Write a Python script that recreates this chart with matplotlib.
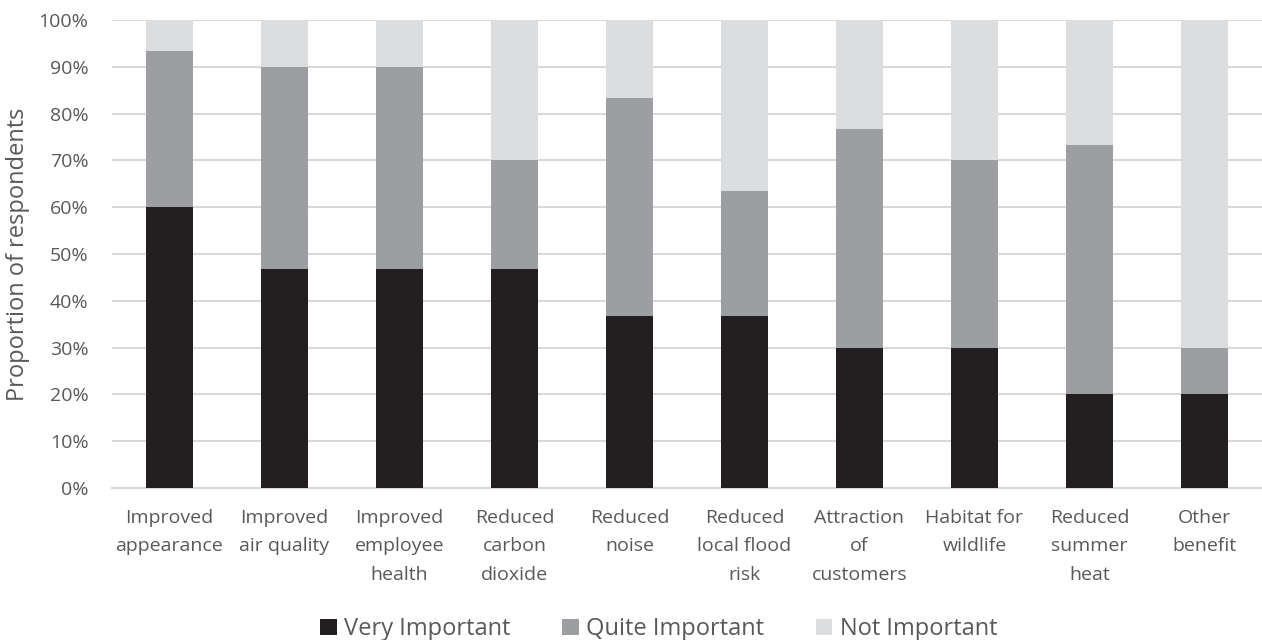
import matplotlib
matplotlib.use('Agg')
from matplotlib import pyplot as plt
from matplotlib.ticker import PercentFormatter
import numpy as np

categories = ['Improved\nappearance', 'Improved\nair quality', 'Improved\nemployee\nhealth',
              'Reduced\ncarbon\ndioxide', 'Reduced\nnoise', 'Reduced\nlocal flood\nrisk',
              'Attraction\nof\ncustomers', 'Habitat for\nwildlife', 'Reduced\nsummer\nheat',
              'Other\nbenefit']
very = [60.0, 46.7, 46.7, 46.7, 36.7, 36.7, 30.0, 30.0, 20.0, 20.0]
quite = [33.3, 43.3, 43.3, 23.3, 46.7, 26.7, 46.7, 40.0, 53.3, 10.0]
not_imp = [6.7, 10.0, 10.0, 30.0, 16.6, 36.6, 23.3, 30.0, 26.7, 70.0]
series = ['Very Important', 'Quite Important', 'Not Important']
colors = ['#231f20', '#9d9ea1', '#dcdddf']

plt.rcParams['font.family'] = ['Open Sans', 'DejaVu Sans']
text_color = '#595959'

fig = plt.figure(figsize=(12.62, 6.4), dpi=100)
ax = fig.add_axes([0.0887, 0.2375, 0.9113, 0.73125])

x = np.arange(len(categories))
bottom = np.zeros(len(categories))
for vals, name, c in zip([very, quite, not_imp], series, colors):
    ax.bar(x, vals, 0.41, bottom=bottom, color=c, label=name, zorder=3)
    bottom += np.array(vals)

ax.set_ylim(0, 100)
ax.set_xlim(-0.5, len(categories) - 0.5)
ax.set_yticks(np.arange(0, 101, 10))
ax.yaxis.set_major_formatter(PercentFormatter(decimals=0))
ax.grid(axis='y', color='#d9d9d9', linewidth=1.5, zorder=0)
for s in ['top', 'right', 'left']:
    ax.spines[s].set_visible(False)
ax.spines['bottom'].set_color('#d9d9d9')
ax.spines['bottom'].set_linewidth(1.5)
ax.tick_params(length=0, labelsize=14, colors=text_color)
ax.tick_params(axis='y', pad=17)
ax.tick_params(axis='x', pad=15)
ax.set_xticks(x)
ax.set_xticklabels(categories, linespacing=1.75, va='top')
ax.set_ylabel('Proportion of respondents', fontsize=17, color=text_color, labelpad=6)

fig.legend(loc='lower center', bbox_to_anchor=(0.522, -0.035), ncol=3, frameon=False,
           fontsize=17, labelcolor=text_color, handlelength=0.7, handleheight=0.7,
           handletextpad=0.3, columnspacing=2.2)

fig.savefig('out.png', dpi=100)
